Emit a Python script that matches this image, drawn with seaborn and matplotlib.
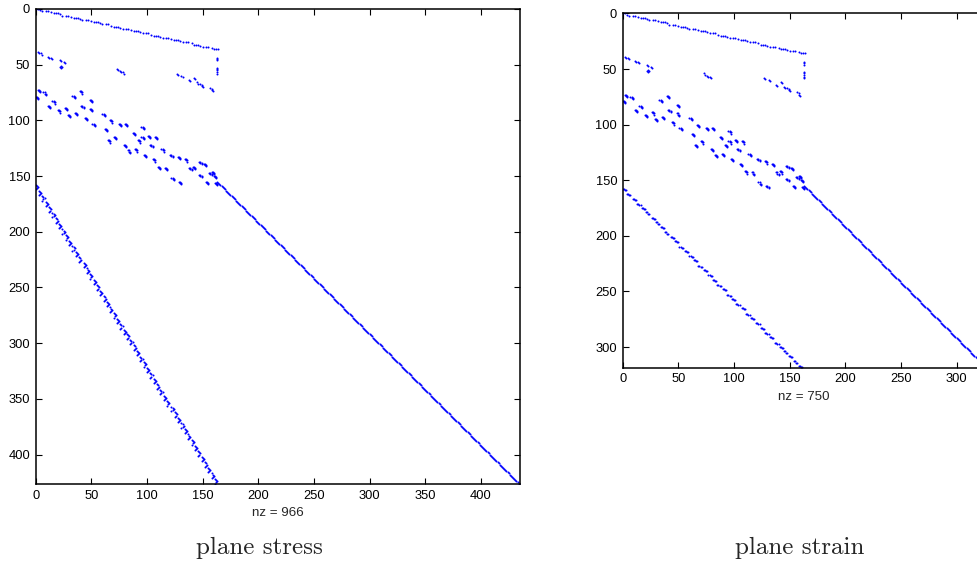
import numpy as np
import pandas as pd
import matplotlib
matplotlib.use("Agg")
import matplotlib.pyplot as plt
import seaborn as sns

sns.set_theme(style="white")
plt.rcParams['font.family'] = ['Liberation Sans', 'DejaVu Sans']

# ---------------- data ----------------
# matrix sizes (axis limits of the spy plots: rows, cols)
stress_shape = (426.7, 434.7)
strain_shape = (318.6, 326.6)
nz_labels = ["nz = 966", "nz = 750"]
titles = ["plane stress", "plane strain"]
ticks_stress = [0, 50, 100, 150, 200, 250, 300, 350, 400]
ticks_strain = [0, 50, 100, 150, 200, 250, 300]

# top band of the shared upper block: (row, col) end points
top_band_start = (0, 0)
top_band_end = (36, 162)

# isolated coupling entries in column 163
coupling_col = 163
coupling_rows = [44, 45, 46, 53, 54, 55, 57, 58]

# small sparse groups (rows 38-73), centres
sparse_rows = [39, 40, 43, 44, 46, 48, 51, 52, 54, 56, 57, 58, 60, 64, 62, 66, 67, 69, 71, 73]
sparse_cols = [2, 5, 11, 14, 22, 25, 23, 22, 73, 76, 78, 127, 131, 138, 142, 145, 148, 149, 157, 158]

# clustered block (rows 73-158), cluster centres
cluster_rows = [73, 75, 79, 87, 83, 91, 89, 95, 93, 78, 74, 87, 82, 98, 103, 94, 90, 108,
                100, 118, 115, 103, 103, 122, 127, 111, 106, 118, 115, 114, 115, 122, 126,
                131, 135, 126, 142, 143, 131, 152, 155, 133, 135, 142, 143, 137, 149, 155,
                146, 156, 139, 147, 150]
cluster_cols = [2, 7, 0, 11, 15, 20, 26, 29, 35, 33, 40, 41, 49, 44, 51, 60, 49, 62,
                67, 65, 70, 75, 80, 79, 83, 87, 95, 92, 95, 101, 107, 103, 89,
                97, 105, 113, 110, 116, 121, 122, 129, 128, 134, 141, 138, 147, 147, 153,
                158, 161, 151, 156, 160]

# diagonals (row = col - 8) starting at column 163
diag_start = (155, 163)
diag_end_stress = (426, 434)
diag_end_strain = (318, 326)

# lower coupling bands
lower_start = (158, 0)
lower_end_stress = (422, 161)
lower_end_strain = (317, 158)


def run(start, end, count):
    r = np.linspace(start[0], end[0], count)
    c = np.linspace(start[1], end[1], count)
    return np.round(r), np.round(c)


def upper_block():
    pts = []
    r, c = run(top_band_start, top_band_end, 37)
    for i, (rr, cc) in enumerate(zip(r, c)):
        pts += [(rr, cc), (rr + (i % 2), cc + 2)]
    for rr in coupling_rows:
        pts.append((rr, coupling_col))
    for rr, cc in zip(sparse_rows, sparse_cols):
        pts += [(rr, cc), (rr + 1, cc + 1)]
    for rr, cc in zip(cluster_rows, cluster_cols):
        pts += [(rr, cc), (rr, cc + 1), (rr + 1, cc + 1), (rr + 1, cc + 2), (rr + 2, cc + 2)]
    return pts


def lower_chevrons(start, end, n):
    pts = []
    r, c = run(start, end, n)
    for rr, cc in zip(r, c):
        pts += [(rr, cc), (rr + 1, cc + 1), (rr + 2, cc + 2), (rr + 3, cc + 1), (rr + 4, cc)]
    return pts


def lower_dashes(start, end, n):
    pts = []
    r, c = run(start, end, n)
    for rr, cc in zip(r, c):
        pts += [(rr, cc), (rr, cc + 1), (rr + 1, cc + 2), (rr + 1, cc + 3)]
    return pts


def diagonal(start, end):
    n = int(end[1] - start[1]) + 1
    r, c = run(start, end, n)
    return list(zip(r, c))


stress = upper_block() + lower_chevrons(lower_start, lower_end_stress, 54) + diagonal(diag_start, diag_end_stress)
strain = upper_block() + lower_dashes(lower_start, lower_end_strain, 38) + diagonal(diag_start, diag_end_strain)

df_stress = pd.DataFrame(stress, columns=["row", "col"])
df_strain = pd.DataFrame(strain, columns=["row", "col"])

# ---------------- figure ----------------
W, H = 977, 563
fig = plt.figure(figsize=(W / 100, H / 100), dpi=100)

ax1 = fig.add_axes([35.7 / W, (H - 484.3) / H, 483.8 / W, 475.4 / H])
ax2 = fig.add_axes([622.7 / W, (H - 367.7) / H, 363.5 / W, 354.3 / H])


def style(ax, df, shape, ticks):
    sns.scatterplot(data=df, x="col", y="row", ax=ax, s=2.1, color="#0000ff",
                    linewidth=0, marker="o", legend=False)
    ax.set_xlim(0, shape[1])
    ax.set_ylim(shape[0], 0)
    ax.set_xticks(ticks)
    ax.set_yticks(ticks)
    ax.set_xlabel("")
    ax.set_ylabel("")
    ax.tick_params(direction="in", length=4, width=0.8, top=True, right=True,
                   bottom=True, left=True, labelsize=9.3, colors="black", pad=4)
    for s in ax.spines.values():
        s.set_color("black")
        s.set_linewidth(1.1)
        s.set_visible(True)
    ax.set_facecolor("white")


style(ax1, df_stress, stress_shape, ticks_stress)
style(ax2, df_strain, strain_shape, ticks_strain)

fig.text(277.5 / W, 1 - 512.5 / H, nz_labels[0], ha="center", va="center", fontsize=9.6)
fig.text(804 / W, 1 - 396.5 / H, nz_labels[1], ha="center", va="center", fontsize=9.6)
fig.text(259.7 / W, 1 - 554 / H, titles[0], ha="center", va="baseline", fontsize=18, family="cmr10")
fig.text(800 / W, 1 - 554 / H, titles[1], ha="center", va="baseline", fontsize=18, family="cmr10")

fig.savefig("out.png", dpi=100)
